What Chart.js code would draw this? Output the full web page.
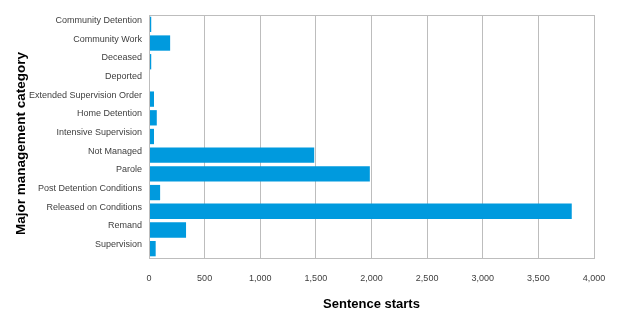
<!DOCTYPE html>
<html>
<head>
<meta charset="utf-8">
<script src="https://cdn.jsdelivr.net/npm/chart.js@4"></script>
<style>
  html, body { margin: 0; padding: 0; background: #ffffff; }
  #wrap { width: 631px; height: 322px; position: relative; }
</style>
</head>
<body>
<div id="wrap"><canvas id="chart"></canvas></div>
<script>
// Major management categories (top to bottom)
const categories = [
  'Community Detention',
  'Community Work',
  'Deceased',
  'Deported',
  'Extended Supervision Order',
  'Home Detention',
  'Intensive Supervision',
  'Not Managed',
  'Parole',
  'Post Detention Conditions',
  'Released on Conditions',
  'Remand',
  'Supervision'
];

// Number of sentence starts per category
const sentenceStarts = [20, 190, 20, 0, 45, 70, 45, 1485, 1985, 100, 3800, 333, 60];

// Horizontal axis ticks
const xTickValues = [0, 500, 1000, 1500, 2000, 2500, 3000, 3500, 4000];

const yAxisTitle = 'Major management category';

const gridColor = '#BDBDBD';

// Outline around the plotting area, plus the vertical axis title
const frame = {
  id: 'frame',
  afterDraw(chart) {
    const { ctx, chartArea: a } = chart;
    ctx.save();
    ctx.strokeStyle = gridColor;
    ctx.lineWidth = 1;
    ctx.strokeRect(Math.round(a.left) + 0.5, Math.round(a.top) + 0.5,
                   Math.round(a.right - a.left), Math.round(a.bottom - a.top));
    ctx.translate(21, (a.top + a.bottom) / 2 + 7);
    ctx.rotate(-Math.PI / 2);
    ctx.fillStyle = '#000000';
    ctx.font = 'bold 13.5px "Liberation Sans"';
    ctx.textAlign = 'center';
    ctx.textBaseline = 'middle';
    ctx.fillText(yAxisTitle, 0, 0);
    ctx.restore();
  }
};

new Chart(document.getElementById('chart'), {
  type: 'bar',
  data: {
    labels: categories,
    datasets: [{
      data: sentenceStarts,
      backgroundColor: '#009ADE',
      borderWidth: 0,
      barPercentage: 0.82,
      categoryPercentage: 1.0
    }]
  },
  plugins: [frame],
  options: {
    indexAxis: 'y',
    responsive: true,
    maintainAspectRatio: false,
    animation: false,
    layout: { padding: { left: 0, right: 37, top: 15, bottom: 0 } },
    plugins: {
      legend: { display: false },
      tooltip: { enabled: false }
    },
    scales: {
      x: {
        min: 0,
        max: 4000,
        afterBuildTicks(scale) {
          scale.ticks = xTickValues.map(v => ({ value: v }));
        },
        afterFit(scale) { scale.height = 64; },
        border: { display: false },
        grid: { color: gridColor, lineWidth: 1, drawTicks: false },
        ticks: {
          padding: 15,
          color: '#404040',
          font: { family: 'Liberation Sans', size: 9 },
          callback: v => v.toLocaleString('en-US')
        },
        title: {
          display: true,
          text: 'Sentence starts',
          color: '#000000',
          font: { family: 'Liberation Sans', size: 13, weight: 'bold' },
          padding: { top: 0, bottom: 10 }
        }
      },
      y: {
        afterFit(scale) { scale.width = 149; },
        border: { display: false },
        grid: { display: false, drawTicks: false },
        ticks: {
          padding: 7,
          labelOffset: -4,
          color: '#404040',
          font: { family: 'Liberation Sans', size: 9 }
        },
        title: { display: false }
      }
    }
  }
});
</script>
</body>
</html>
